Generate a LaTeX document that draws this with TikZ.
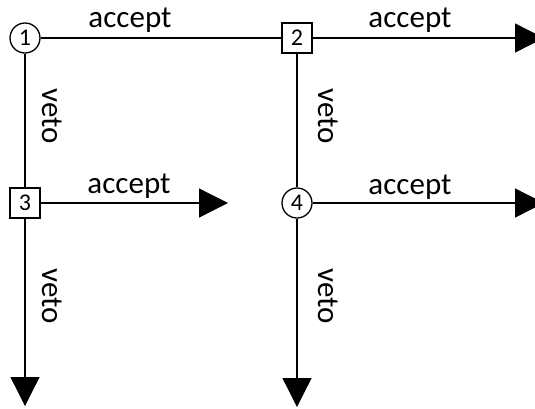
\documentclass[tikz,border=0pt]{standalone}
\usepackage{fontspec}
\setmainfont{Carlito}
\usetikzlibrary{arrows.meta, positioning}

\tikzset{
  circnode/.style={circle, draw, line width=1.3pt, inner sep=0pt, minimum size=30pt, font=\fontsize{24}{26}\selectfont},
  boxnode/.style={rectangle, draw, line width=1.3pt, inner sep=0pt, minimum size=30pt, font=\fontsize{24}{26}\selectfont},
  lbl/.style={inner sep=0pt, font=\fontsize{31}{36}\selectfont},
  vlbl/.style={lbl, rotate=-90},
  exitarrow/.style={line width=1.3pt, -{Triangle[length=29pt, width=29pt]}}
}

\begin{document}
\begin{tikzpicture}[x=1pt, y=-1pt]
  \useasboundingbox (0,0) rectangle (535,408);

  \node[circnode] (1) at (25, 38) {1};
  \node[boxnode] (2) at (297, 38) {2};
  \node[boxnode] (3) at (25, 203) {3};
  \node[circnode] (4) at (297, 203) {4};

  \coordinate (e2) at (544, 38);
  \coordinate (e3r) at (228, 203);
  \coordinate (e3d) at (25, 406);
  \coordinate (e4r) at (544, 203);
  \coordinate (e4d) at (297, 407);

  \node[lbl, anchor=base] (a12) at (130, 27) {accept};
  \node[lbl, anchor=base] (a2) at (410, 27) {accept};
  \node[lbl, anchor=base] (a3) at (129, 193) {accept};
  \node[lbl, anchor=base] (a4) at (410, 194) {accept};
  \node[vlbl] (v13) at (52, 116) {veto};
  \node[vlbl] (v24) at (328, 116) {veto};
  \node[vlbl] (v3) at (52, 296) {veto};
  \node[vlbl] (v4) at (328, 296) {veto};

  \draw[line width=1.3pt]
  (1) -- (2)
  (1) -- (3)
  (2) -- (4);

  \draw[exitarrow] (2) -- (e2);
  \draw[exitarrow] (3) -- (e3r);
  \draw[exitarrow] (3) -- (e3d);
  \draw[exitarrow] (4) -- (e4r);
  \draw[exitarrow] (4) -- (e4d);
\end{tikzpicture}
\end{document}
